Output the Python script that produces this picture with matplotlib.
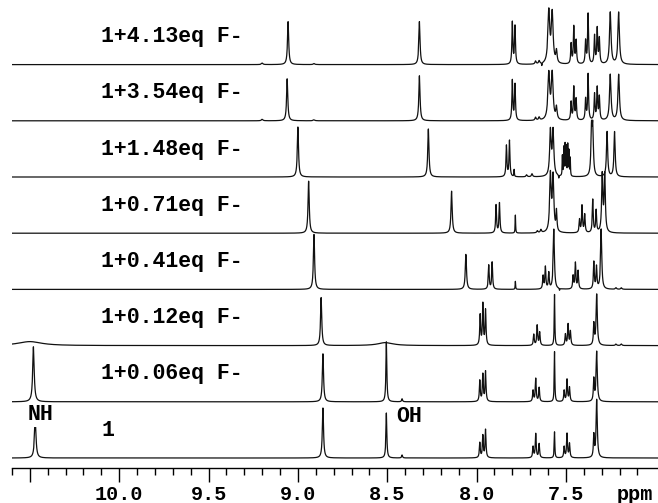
import numpy as np
import matplotlib
matplotlib.use("Agg")
import matplotlib.pyplot as plt

# Titration labels, top spectrum first
labels = ["1+4.13eq F-", "1+3.54eq F-", "1+1.48eq F-", "1+0.71eq F-",
          "1+0.41eq F-", "1+0.12eq F-", "1+0.06eq F-", "1"]

# Peak lists: (shift in ppm, intensity, half width in ppm)
peaks_413 = [(9.055, 43, .004), (8.32, 43, .004), (9.20, 1.5, .005), (8.91, 1, .005),
             (7.800, 42, .003), (7.785, 38, .003), (7.67, 3, .004), (7.65, 3, .004),
             (7.635, -3, .0015),
             (7.596, 52, .006), (7.577, 50, .006), (7.553, 12, .004),
             (7.471, 20, .003), (7.456, 37, .003), (7.443, 23, .003),
             (7.390, 23, .003), (7.376, 50, .003),
             (7.340, 28, .003), (7.325, 35, .003), (7.313, 25, .003),
             (7.252, 52, .005), (7.205, 52, .005)]
peaks_354 = [(9.06, 42, .004), (8.32, 45, .004), (9.20, 1.5, .005), (8.91, 1, .005),
             (7.800, 40, .003), (7.785, 36, .003), (7.67, 3, .004), (7.65, 3, .004),
             (7.596, 46, .006), (7.577, 46, .006), (7.553, 12, .004),
             (7.471, 18, .003), (7.456, 33, .003), (7.443, 21, .003),
             (7.390, 21, .003), (7.376, 46, .003),
             (7.340, 26, .003), (7.325, 32, .003), (7.313, 23, .003),
             (7.252, 46, .005), (7.205, 46, .005)]
peaks_148 = [(9.00, 50, .004), (8.27, 48, .004),
             (7.833, 31, .003), (7.816, 36, .003), (7.79, 7, .0015),
             (7.72, 2, .004), (7.69, 3, .004),
             (7.587, 45, .005), (7.572, 45, .005), (7.54, -3, .0015),
             (7.520, 20, .0015), (7.512, 28, .0015), (7.505, 31, .0015), (7.498, 29, .0015),
             (7.490, 31, .0015), (7.483, 25, .0015), (7.476, 18, .0015),
             (7.357, 45, .004), (7.350, 45, .004), (7.270, 45, .004), (7.228, 45, .004)]
peaks_071 = [(8.94, 52, .004), (8.14, 42, .004),
             (7.891, 28, .003), (7.872, 30, .003), (7.783, 18, .0015),
             (7.66, 2, .004), (7.64, 3, .004),
             (7.587, 57, .005), (7.572, 55, .005), (7.553, 20, .003),
             (7.424, 13, .003), (7.410, 27, .003), (7.395, 18, .003),
             (7.350, 33, .003), (7.331, 22, .003),
             (7.297, 57, .004), (7.283, 57, .004)]
peaks_041 = [(8.91, 55, .004), (8.06, 35, .004),
             (7.932, 24, .003), (7.913, 27, .003), (7.783, 8, .0015),
             (7.628, 13, .003), (7.615, 22, .003), (7.596, 16, .003),
             (7.568, 60, .004), (7.536, -2, .0015),
             (7.460, 13, .003), (7.447, 26, .003), (7.432, 18, .003),
             (7.344, 27, .003), (7.329, 22, .003), (7.303, 60, .004),
             (7.22, 1.5, .004), (7.19, 1.5, .004)]
peaks_012 = [(10.50, 4, .08), (8.51, 3, .05), (8.87, 48, .004),
             (7.980, 30, .003), (7.965, 41, .003), (7.950, 35, .003),
             (7.680, 11, .003), (7.661, 20, .003), (7.647, 13, .003),
             (7.564, 51, .002),
             (7.503, 11, .003), (7.488, 21, .003), (7.475, 14, .003),
             (7.344, 21, .003), (7.328, 51, .004),
             (7.22, 1.5, .004), (7.19, 1.5, .004)]
peaks_006 = [(10.48, 55, .005), (8.86, 48, .004), (8.505, 60, .003), (8.417, 3, .003),
             (7.982, 21, .003), (7.965, 27, .003), (7.950, 30, .003),
             (7.684, 11, .003), (7.669, 23, .003), (7.650, 14, .003),
             (7.564, 50, .002),
             (7.510, 11, .003), (7.494, 22, .003), (7.480, 14, .003),
             (7.344, 22, .003), (7.328, 50, .004)]
peaks_000 = [(10.47, 40, .005), (8.86, 50, .004), (8.505, 45, .003), (8.417, 3, .003),
             (7.982, 15, .003), (7.965, 22, .003), (7.950, 28, .003),
             (7.684, 11, .003), (7.669, 24, .003), (7.650, 14, .003),
             (7.564, 26, .002),
             (7.510, 11, .003), (7.494, 24, .003), (7.480, 14, .003),
             (7.344, 22, .003), (7.328, 58, .004)]

spectra = [peaks_413, peaks_354, peaks_148, peaks_071,
           peaks_041, peaks_012, peaks_006, peaks_000]

# x ticks
major_ticks = [10.5, 10.0, 9.5, 9.0, 8.5, 8.0, 7.5]
tick_text = ["", "10.0", "9.5", "9.0", "8.5", "8.0", "7.5"]


def lorentz_sum(x, peaks):
    y = np.zeros_like(x)
    for c, h, w in peaks:
        y += h * w ** 2 / ((x - c) ** 2 + w ** 2)
    return y


plt.rcParams["font.family"] = ["Liberation Mono", "DejaVu Sans Mono"]
plt.rcParams["font.weight"] = "bold"

fig = plt.figure(figsize=(6.58, 5.03), dpi=100)
ax = fig.add_axes([12 / 658, 35 / 503, 646 / 658, 468 / 503])

ppm = np.linspace(6.9, 10.7, 40000)
step = 56.2
for i, (name, peaks) in enumerate(zip(labels, spectra)):
    base = 10 + step * (len(spectra) - 1 - i)
    ax.plot(ppm, base + lorentz_sum(ppm, peaks), color="#111111", lw=0.9)
    ax.text(10.10, base + 28, name, ha="left", va="center", fontsize=15.5,
            fontweight="bold", zorder=5)

# signal assignments on the free receptor
ax.text(10.44, 53, "NH", ha="center", va="center", fontsize=15.5, fontweight="bold",
        zorder=5, bbox=dict(facecolor="white", edgecolor="none", pad=1))
ax.text(8.38, 51, "OH", ha="center", va="center", fontsize=15.5, fontweight="bold",
        zorder=5, bbox=dict(facecolor="white", edgecolor="none", pad=1))

ax.set_xlim(10.6, 6.985)
ax.set_ylim(0, 468)
for side in ["top", "left", "right"]:
    ax.spines[side].set_visible(False)
ax.spines["bottom"].set_linewidth(1.0)
ax.set_yticks([])
ax.set_xticks(major_ticks)
ax.set_xticklabels(tick_text)
ax.set_xticks(np.arange(7.1, 10.65, 0.1), minor=True)
ax.tick_params(axis="x", which="major", length=10, width=1, labelsize=14.5, pad=2)
ax.tick_params(axis="x", which="minor", length=5, width=1)
fig.text(635 / 658, 1 - 494 / 503, "ppm", ha="center", va="center", fontsize=14.5,
         fontweight="bold")

fig.savefig("out.png", dpi=100)
